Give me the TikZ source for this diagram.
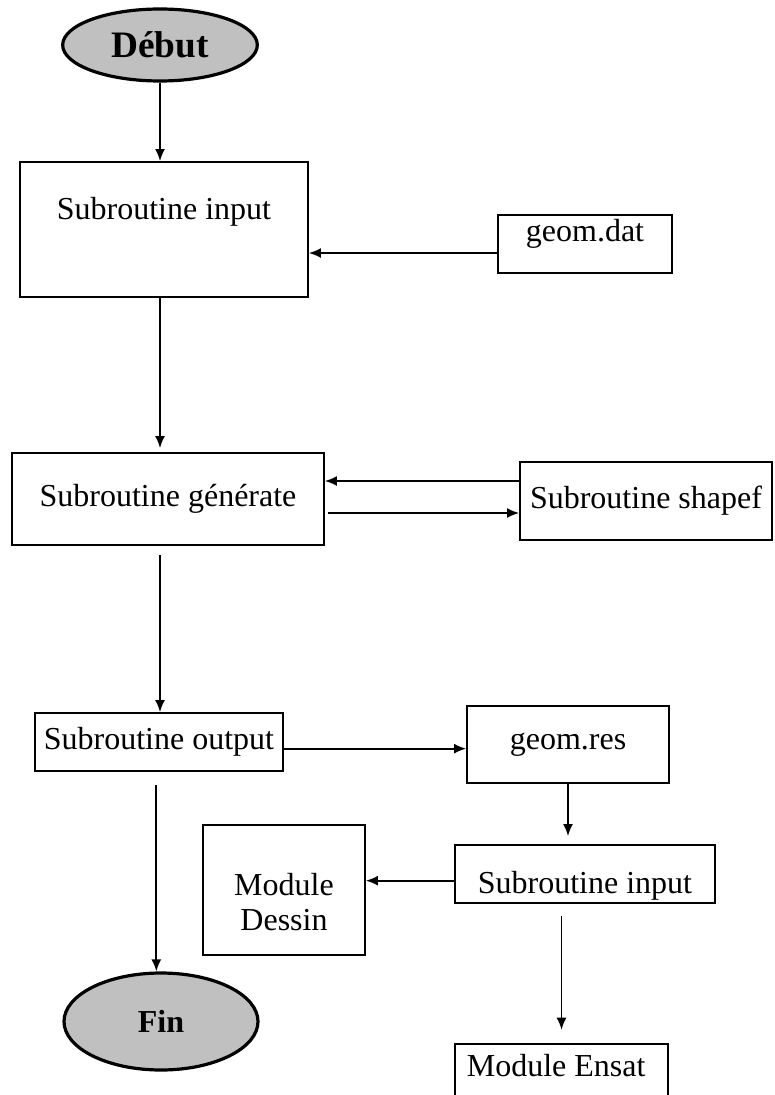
\documentclass[tikz,border=0pt]{standalone}
\usepackage{fontspec}
\setmainfont{Liberation Serif}
\usetikzlibrary{arrows.meta,shapes.geometric}

\definecolor{termfill}{HTML}{C0C0C0}

\begin{document}
\begin{tikzpicture}[
    x=0.75pt, y=-0.75pt,
    txt/.style={font=\fontsize{24}{26}\selectfont},
    box/.style={draw, line width=1.4pt, inner sep=0pt, align=center, txt},
    term/.style={ellipse, draw, line width=2.4pt, fill=termfill, inner sep=0pt},
    arr/.style={line width=1.3pt, -{Latex[length=9pt,width=7.5pt]}}
]
\clip (0,0) rectangle (774,1095);

% debut / fin
\node[term, minimum width=146pt, minimum height=54pt,
    font=\fontsize{28}{30}\selectfont\bfseries] (debut) at (160,45) {Début};
\node[term, minimum width=145.5pt, minimum height=72.75pt,
    font=\fontsize{24}{28}\selectfont\bfseries] (fin) at (161,1021.5) {Fin};
\coordinate (spine) at (160,0);

% main column
\node[box, minimum width=216pt, minimum height=101.25pt,
    label={[txt, yshift=13pt]center:Subroutine input}]
    (input) at (164,229.5) {};
\node[box, minimum width=234pt, minimum height=69pt] (generate) at (168,499) {Subroutine générate};
\node[box, minimum width=186pt, minimum height=43.5pt] (output) at (159,742) {Subroutine output};

% right side
\node[box, minimum width=130.5pt, minimum height=43.5pt,
    label={[txt, yshift=7.5pt]center:geom.dat}]
    (dat) at (585,244) {};
\node[box, minimum width=189pt, minimum height=58.5pt] (shapef) at (646,501) {Subroutine shapef};
\node[box, minimum width=151.5pt, minimum height=57.75pt] (res) at (568,744.5) {geom.res};
\node[box, minimum width=195pt, minimum height=43.5pt,
    label={[txt, yshift=-9pt]center:Subroutine input}]
    (input2) at (585,874) {};
\node[box, minimum width=121.5pt, minimum height=97.5pt,
    label={[txt, align=center, yshift=-9pt]center:Module\\Dessin}]
    (dessin) at (284,890) {};
\node[box, minimum width=160pt, minimum height=64.5pt,
    label={[txt, yshift=16pt, xshift=-4pt]center:Module Ensat}]
    (ensat) at (561.5,1087) {};

% connectors
\draw[arr] (debut.south -| spine) -- (input.north -| spine);
\coordinate (datin) at ([yshift=-6.75pt]dat.west);
\draw[arr] (datin) -- (datin -| input.east);
\draw[arr, shorten >=3pt] (input.south -| spine) -- (generate.north -| spine);
\coordinate (shin) at ([yshift=15pt]shapef.west);
\draw[arr] (shin) -- (shin -| generate.east);
\coordinate (genout) at ([yshift=-10.5pt,xshift=2pt]generate.east);
\draw[arr] (genout) -- (genout -| shapef.west);
\draw[arr, shorten <=7pt] (generate.south -| spine) -- (output.north -| spine);
\coordinate (outres) at ([yshift=-5pt]output.east);
\draw[arr] (outres) -- (outres -| res.west);
\draw[arr, shorten >=6pt] (res.south) -- (res.south |- input2.north);
\coordinate (indes) at ([yshift=-5pt]input2.west);
\draw[arr] (indes) -- (indes -| dessin.east);
\draw[arr, shorten <=9pt, shorten >=10pt] (ensat.north |- input2.south) -- (ensat.north);
\draw[arr, shorten <=10pt] ([xshift=-2pt]output.south) -- ([xshift=-2pt]output.south |- fin.north);
\end{tikzpicture}
\end{document}
